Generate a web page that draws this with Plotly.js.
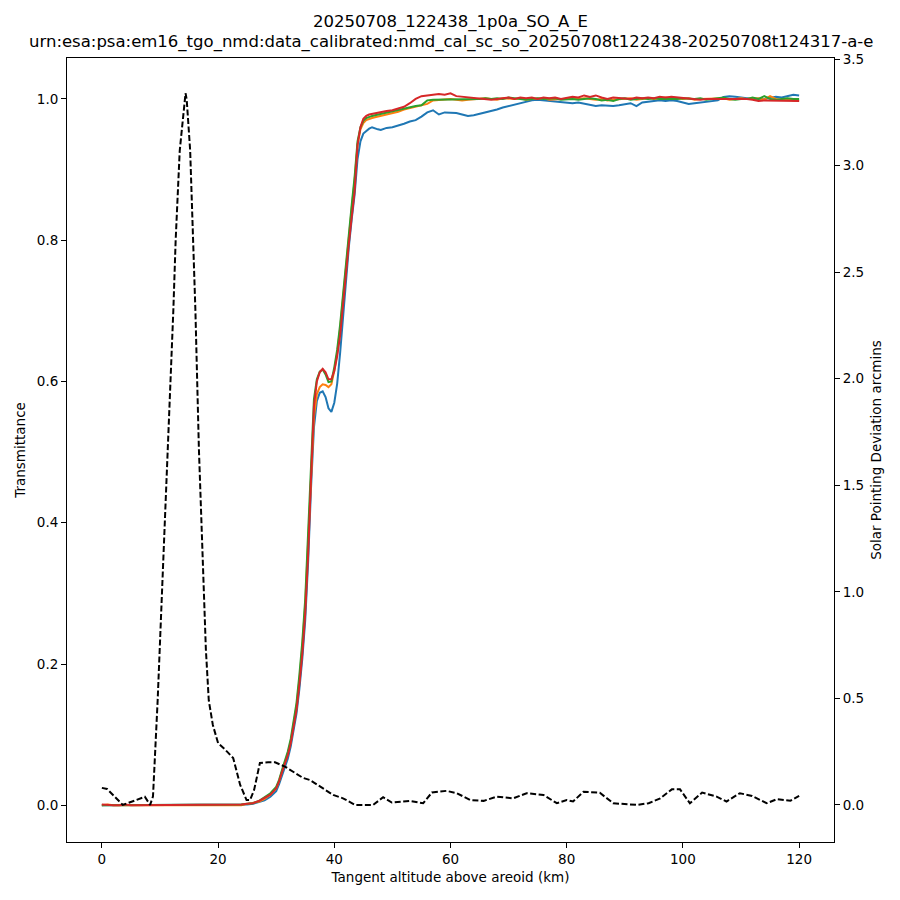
<!DOCTYPE html>
<html>
<head>
<meta charset="utf-8">
<script src="https://cdn.plot.ly/plotly-3.0.1.min.js"></script>
<style>
  html, body { margin: 0; padding: 0; background: #fff; }
  #plot { width: 900px; height: 900px; }
</style>
</head>
<body>
<div id="plot"></div>
<script>
// tangent altitude grid (km), finer through the steep part of the occultation
var altitude = [
  0, 1, 2, 3, 4, 5, 6, 7, 8, 9, 10, 11, 12, 13, 14, 15, 16, 17, 18, 19, 20,
  21, 22, 23, 24, 25, 26, 27, 28, 29, 30,
  30.5, 31, 31.5, 32, 32.5, 33, 33.5, 34, 34.5, 35, 35.5, 36, 36.5, 37, 37.5, 38,
  38.5, 39, 39.5, 40, 40.5, 41, 41.5, 42, 42.5, 43, 43.5, 44, 44.5, 45, 45.5, 46,
  46.5, 47, 47.5, 48,
  49, 50, 51, 52, 53, 54, 55, 56, 57, 58, 59, 60, 61, 62, 63, 64, 65, 66, 67, 68,
  69, 70, 71, 72, 73, 74, 75, 76, 77, 78, 79, 80, 81, 82, 83, 84, 85, 86, 87, 88,
  89, 90, 91, 92, 93, 94, 95, 96, 97, 98, 99, 100, 101, 102, 103, 104, 105, 106,
  107, 108, 109, 110, 111, 112, 113, 114, 115, 116, 117, 118, 119, 120
];

// transmittance, one array per spectral bin
var transBlue = [
  0, 0, 0, 0.001, 0, 0, 0, 0, 0.001, 0, 0, 0, 0, 0, 0.001, 0, 0, 0, 0, 0, 0.001,
  0, 0, 0, 0.001, 0.001, 0.002, 0.004, 0.007, 0.012, 0.02,
  0.03, 0.042, 0.054, 0.066, 0.083, 0.104, 0.13, 0.165, 0.208, 0.262, 0.345, 0.45,
  0.535, 0.572, 0.584, 0.586, 0.578, 0.562, 0.557, 0.57, 0.597, 0.64, 0.69, 0.745,
  0.79, 0.83, 0.865, 0.915, 0.94, 0.951, 0.955, 0.958, 0.96, 0.958, 0.957, 0.956,
  0.959, 0.96, 0.962, 0.965, 0.968, 0.97, 0.975, 0.981, 0.984, 0.978, 0.981, 0.981,
  0.98, 0.978, 0.976, 0.977, 0.979, 0.98, 0.983, 0.985, 0.988, 0.99, 0.993, 0.995,
  0.997, 0.998, 0.999, 0.998, 0.998, 0.997, 0.996, 0.995, 0.994, 0.995, 0.993, 0.992,
  0.99, 0.991, 0.99, 0.99, 0.991, 0.993, 0.994, 0.99, 0.995, 0.996, 0.997, 0.998,
  0.997, 0.998, 0.997, 0.995, 0.993, 0.994, 0.995, 0.996, 0.997, 0.998, 1.003, 1.004,
  1.003, 1.002, 1.0, 0.999, 0.999, 1.0, 1.002, 1.003, 1.002, 1.004, 1.006, 1.005
];
var transOrange = [
  0, 0.001, 0, 0, 0, 0, 0.001, 0, 0, 0, 0.001, 0, 0, 0, 0, 0.001, 0, 0, 0, 0, 0,
  0.001, 0, 0.001, 0, 0.002, 0.003, 0.005, 0.009, 0.015, 0.024,
  0.034, 0.048, 0.06, 0.073, 0.09, 0.113, 0.14, 0.178, 0.225, 0.285, 0.37, 0.475,
  0.55, 0.582, 0.592, 0.596, 0.595, 0.592, 0.596, 0.615, 0.64, 0.675, 0.72, 0.765,
  0.805, 0.845, 0.885, 0.935, 0.957, 0.966, 0.97, 0.972, 0.973, 0.974, 0.975, 0.976,
  0.977, 0.979, 0.982, 0.985, 0.987, 0.989, 0.99, 0.993, 0.998, 0.999, 0.999, 1.0,
  0.999, 0.998, 0.999, 1.0, 1.0, 1.001, 1.0, 0.999, 1.001, 1.0, 1.0, 1.001,
  0.999, 1.0, 1.0, 1.001, 0.999, 1.0, 1.0, 1.0, 1.002, 1.0, 1.001, 1.0,
  0.999, 1.0, 0.998, 0.999, 1.0, 1.0, 1.001, 0.999, 1.0, 1.001, 1.0, 1.001,
  1.002, 1.001, 1.0, 1.0, 1.001, 0.999, 1.0, 1.0, 1.001, 1.0, 1.001, 0.999,
  1.0, 1.001, 1.0, 1.0, 1.001, 0.999, 1.004, 1.0, 0.999, 1.0, 0.998, 0.998
];
var transGreen = [
  0, 0, 0.001, 0, 0, 0.001, 0, 0, 0, 0, 0, 0, 0.001, 0, 0, 0, 0, 0, 0.001, 0, 0,
  0, 0, 0.001, 0.001, 0.002, 0.003, 0.006, 0.011, 0.017, 0.026,
  0.036, 0.05, 0.062, 0.076, 0.094, 0.118, 0.145, 0.185, 0.232, 0.292, 0.38, 0.49,
  0.575, 0.603, 0.614, 0.617, 0.61, 0.599, 0.6, 0.62, 0.645, 0.68, 0.725, 0.77,
  0.81, 0.85, 0.89, 0.94, 0.96, 0.969, 0.973, 0.975, 0.976, 0.977, 0.978, 0.979,
  0.981, 0.983, 0.984, 0.986, 0.988, 0.99, 0.991, 0.998, 0.999, 0.999, 1.0, 0.999,
  0.999, 0.999, 1.0, 0.999, 1.0, 1.001, 1.0, 1.001, 1.0, 1.002, 1.001, 1.0,
  0.999, 1.0, 1.001, 1.0, 1.0, 1.001, 0.999, 1.0, 1.0, 0.999, 1.0, 1.001,
  1.0, 0.998, 0.999, 0.997, 1.0, 1.001, 0.999, 1.0, 1.001, 1.0, 1.001, 1.0,
  1.0, 0.999, 1.0, 1.001, 1.0, 1.0, 1.001, 0.999, 1.0, 1.001, 1.002, 1.0,
  0.999, 1.0, 1.0, 1.002, 1.0, 1.004, 1.0, 0.999, 1.0, 1.001, 1.0, 1.0
];
var transRed = [
  0.001, 0, 0, 0, 0.001, 0, 0, 0, 0, 0.001, 0, 0, 0, 0, 0, 0, 0.001, 0, 0, 0, 0,
  0, 0.001, 0, 0.001, 0.002, 0.003, 0.006, 0.01, 0.015, 0.024,
  0.034, 0.047, 0.059, 0.071, 0.088, 0.11, 0.135, 0.172, 0.215, 0.272, 0.355, 0.465,
  0.565, 0.6, 0.613, 0.618, 0.613, 0.603, 0.603, 0.615, 0.636, 0.665, 0.71, 0.755,
  0.795, 0.833, 0.87, 0.935, 0.96, 0.972, 0.976, 0.978, 0.979, 0.98, 0.981, 0.982,
  0.983, 0.984, 0.987, 0.989, 0.994, 1.0, 1.004, 1.005, 1.006, 1.007, 1.006, 1.008,
  1.004, 1.003, 1.003, 1.002, 1.001, 1.0, 0.999, 1.0, 1.001, 1.002, 1.0, 1.002,
  1.001, 1.002, 1.0, 1.002, 1.001, 1.002, 1.0, 1.001, 1.003, 1.002, 1.005, 1.003,
  1.005, 1.002, 1.0, 1.002, 1.001, 1.001, 1.0, 1.002, 1.001, 1.002, 1.001, 1.003,
  1.002, 1.003, 1.002, 1.001, 1.0, 0.999, 0.999, 1.0, 1.0, 1.001, 1.0, 1.001,
  1.0, 1.001, 1.0, 0.999, 0.997, 0.998, 0.998, 0.997, 0.998, 0.997, 0.998, 0.997
];

// solar pointing deviation (arcmin) on the right axis
var pointAlt = [
  0, 0.9, 3.6, 7.4, 8.3, 8.8, 9.6, 10.9, 12.3, 12.7, 13.4, 14.4, 14.6, 15.2, 15.7,
  16.1, 16.7, 17.4, 17.9, 18.4, 19.1, 20.0, 21.2, 22.6, 23.8, 24.9, 25.5, 26.2, 27.2,
  28.6, 29.8, 31.5, 32.9, 34.6, 35.8, 37.9, 39.8, 41.5, 43.6, 46.7, 48.4, 49.9, 53.0,
  55.3, 56.8, 59.3, 61.1, 63.4, 65.7, 68.0, 70.8, 73.1, 76.0, 78.3, 80.0, 81.1, 82.9,
  85.7, 88.0, 92.1, 94.1, 96.1, 98.1, 99.5, 101.2, 103.3, 105.8, 107.5, 109.8, 111.9,
  114.4, 116.2, 118.5, 120
];
var pointDev = [
  0.08, 0.075, 0.0, 0.038, 0.0, 0.04, 0.49, 1.34, 2.32, 2.65, 3.07, 3.34, 3.31, 3.07, 2.65,
  2.32, 1.67, 1.06, 0.73, 0.49, 0.375, 0.29, 0.26, 0.22, 0.094, 0.023, 0.023, 0.07, 0.197,
  0.2, 0.2, 0.18, 0.155, 0.127, 0.117, 0.08, 0.047, 0.031, 0.0, 0.0, 0.036, 0.011, 0.019,
  0.008, 0.058, 0.066, 0.055, 0.023, 0.019, 0.039, 0.031, 0.055, 0.047, 0.008, 0.023, 0.016, 0.062,
  0.057, 0.008, 0.0, 0.008, 0.031, 0.073, 0.073, 0.008, 0.058, 0.039, 0.016, 0.055, 0.042,
  0.008, 0.027, 0.02, 0.042
];

var titleLines = [
  '20250708_122438_1p0a_SO_A_E',
  'urn:esa:psa:em16_tgo_nmd:data_calibrated:nmd_cal_sc_so_20250708t122438-20250708t124317-a-e'
];

var font = 'DejaVu Sans, sans-serif';

function transTrace(y, color) {
  return {
    x: altitude,
    y: y,
    type: 'scatter',
    mode: 'lines',
    line: {color: color, width: 2},
    xaxis: 'x',
    yaxis: 'y'
  };
}

var data = [
  transTrace(transBlue, '#1f77b4'),
  transTrace(transOrange, '#ff7f0e'),
  transTrace(transGreen, '#2ca02c'),
  transTrace(transRed, '#d62728'),
  {
    x: pointAlt,
    y: pointDev,
    type: 'scatter',
    mode: 'lines',
    line: {color: 'black', width: 2, dash: '6px,2.5px'},
    xaxis: 'x',
    yaxis: 'y2'
  }
];

var axisCommon = {
  showgrid: false,
  zeroline: false,
  showline: true,
  linecolor: 'black',
  linewidth: 1,
  ticks: 'outside',
  ticklen: 5,
  tickwidth: 1,
  tickcolor: 'black',
  tickfont: {family: font, size: 13.5, color: 'black'}
};

// two-line title, drawn as annotations so both lines sit above the axes
var titleAnnots = [
  {text: titleLines[0], y: 1.0455},
  {text: titleLines[1], y: 1.0205}
].map(function (t) {
  return {
    text: t.text,
    xref: 'paper', yref: 'paper',
    x: 0.5, y: t.y,
    xanchor: 'center', yanchor: 'middle',
    showarrow: false,
    font: {family: font, size: 16.5, color: 'black'}
  };
});

var layout = {
  width: 900,
  height: 900,
  paper_bgcolor: 'white',
  plot_bgcolor: 'white',
  showlegend: false,
  margin: {l: 67, r: 66, t: 58, b: 58},
  annotations: titleAnnots,
  xaxis: Object.assign({}, axisCommon, {
    range: [-6, 126],
    tickmode: 'linear',
    tick0: 0,
    dtick: 20,
    mirror: true,
    title: {text: 'Tangent altitude above areoid (km)', font: {family: font, size: 13.5, color: 'black'}, standoff: 6}
  }),
  yaxis: Object.assign({}, axisCommon, {
    range: [-0.052, 1.058],
    tickmode: 'linear',
    tick0: 0,
    dtick: 0.2,
    tickformat: '.1f',
    title: {text: 'Transmittance', font: {family: font, size: 13.5, color: 'black'}, standoff: 8}
  }),
  yaxis2: Object.assign({}, axisCommon, {
    range: [-0.174, 3.505],
    overlaying: 'y',
    side: 'right',
    tickmode: 'linear',
    tick0: 0,
    dtick: 0.5,
    tickformat: '.1f',
    title: {text: 'Solar Pointing Deviation arcmins', font: {family: font, size: 13.5, color: 'black'}, standoff: 8}
  })
};

Plotly.newPlot('plot', data, layout, {displayModeBar: false, staticPlot: true});
</script>
</body>
</html>
